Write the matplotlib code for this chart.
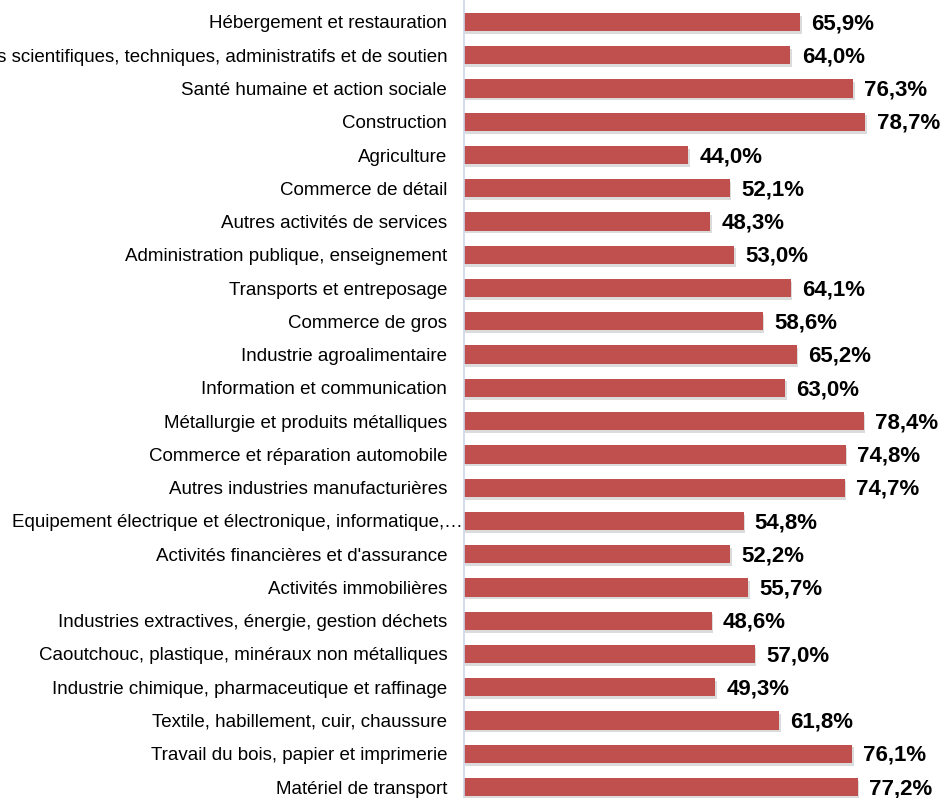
import matplotlib.pyplot as plt
import matplotlib.patheffects as pe
from matplotlib.transforms import ScaledTranslation

plt.rcParams["font.family"] = ["Liberation Sans", "DejaVu Sans"]

sectors = [
    "Hébergement et restauration",
    "Activités scientifiques, techniques, administratifs et de soutien",
    "Santé humaine et action sociale",
    "Construction",
    "Agriculture",
    "Commerce de détail",
    "Autres activités de services",
    "Administration publique, enseignement",
    "Transports et entreposage",
    "Commerce de gros",
    "Industrie agroalimentaire",
    "Information et communication",
    "Métallurgie et produits métalliques",
    "Commerce et réparation automobile",
    "Autres industries manufacturières",
    "Equipement électrique et électronique, informatique,…",
    "Activités financières et d'assurance",
    "Activités immobilières",
    "Industries extractives, énergie, gestion déchets",
    "Caoutchouc, plastique, minéraux non métalliques",
    "Industrie chimique, pharmaceutique et raffinage",
    "Textile, habillement, cuir, chaussure",
    "Travail du bois, papier et imprimerie",
    "Matériel de transport",
]
shares = [65.9, 64.0, 76.3, 78.7, 44.0, 52.1, 48.3, 53.0, 64.1, 58.6, 65.2, 63.0,
          78.4, 74.8, 74.7, 54.8, 52.2, 55.7, 48.6, 57.0, 49.3, 61.8, 76.1, 77.2]

fig = plt.figure(figsize=(9.41, 7.98), dpi=100)
ax = fig.add_axes([0.493, 0.0, 0.507, 1.0])

pos = list(range(len(sectors)))
bars = ax.barh(pos, shares, height=0.55, color="#C0504D", zorder=2)
for b in bars:
    b.set_path_effects([pe.SimplePatchShadow(offset=(1, -2), shadow_rgbFace="#888888", alpha=0.3),
                        pe.Normal()])

for p, v in zip(pos, shares):
    ax.text(v + 2.2, p + 0.05, f"{v:.1f}%".replace(".", ","), va="center", ha="left",
            fontsize=16, fontweight="bold", color="black")

ax.set_yticks(pos)
ax.set_yticklabels(sectors, fontsize=13.5)
ax.tick_params(axis="y", length=0, pad=12)
ax.set_xticks([])
ax.set_xlim(0, 93.5)
ax.set_ylim(23.33, -0.66)

# the truncated label runs up to the axis line in the original
for lbl in ax.get_yticklabels():
    if lbl.get_text().endswith("…"):
        lbl.set_transform(lbl.get_transform() + ScaledTranslation(0.16, 0, fig.dpi_scale_trans))

for s in ["top", "right", "bottom"]:
    ax.spines[s].set_visible(False)
ax.spines["left"].set_color("#C9D6E8")
ax.spines["left"].set_linewidth(1.2)

fig.savefig("out.png", dpi=100, facecolor="white")
